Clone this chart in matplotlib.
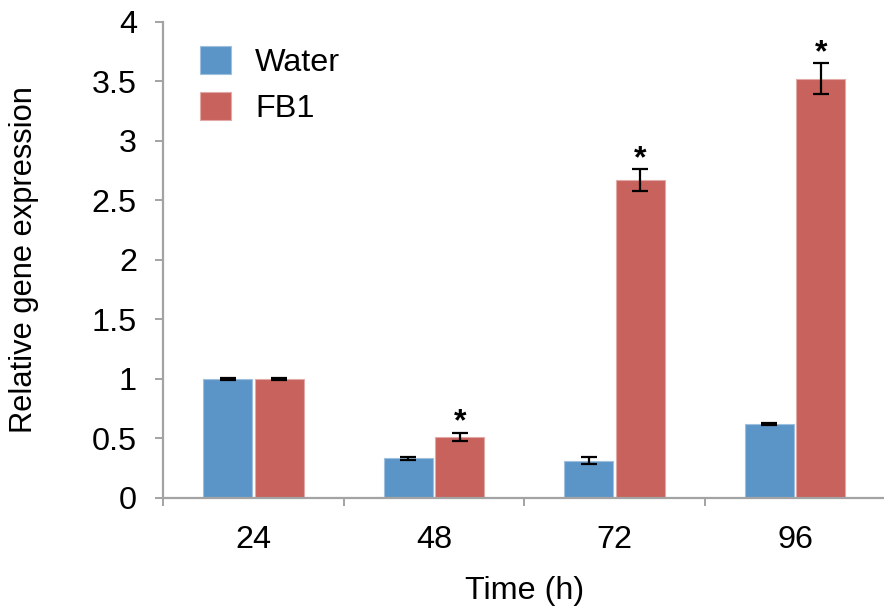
import matplotlib
matplotlib.use("Agg")
import matplotlib.pyplot as plt
import numpy as np

plt.rcParams['font.family'] = ['Liberation Sans', 'DejaVu Sans']

# Data
time_labels = ["24", "48", "72", "96"]
water = [1.0, 0.33, 0.31, 0.62]
water_err = [0.01, 0.01, 0.03, 0.01]
fb1 = [1.0, 0.51, 2.67, 3.52]
fb1_err = [0.01, 0.035, 0.09, 0.13]
fb1_signif = [False, True, True, True]

blue = "#5B95C7"
red = "#C8625D"
grey = "#A3A3A3"

W, H = 884, 608
fig = plt.figure(figsize=(W / 100, H / 100), dpi=100)
ax = fig.add_axes([163.3 / W, 110.3 / H, 722.0 / W, 476.0 / H])

x = np.arange(len(time_labels))
bw = 0.27
off = 0.143
err_kw = dict(ecolor="black", elinewidth=1.6, capsize=6, capthick=1.6)

ax.bar(x - off, water, bw, color=blue, edgecolor="#9EC0DE", linewidth=0.8,
       yerr=water_err, error_kw=err_kw, label="Water", zorder=2)
ax.bar(x + off, fb1, bw, color=red, edgecolor="#E3A9A6", linewidth=0.8,
       yerr=fb1_err, error_kw=err_kw, label="FB1", zorder=2)

# significance marks above the FB1 error bars
for xi, v, e, s in zip(x, fb1, fb1_err, fb1_signif):
    if s:
        ax.annotate("*", xy=(xi + off, v + e), xytext=(0, -3.5),
                    textcoords="offset points", ha="center", va="bottom",
                    fontsize=23, fontweight="bold")

ax.set_xlim(-0.5, 3.5)
ax.set_ylim(0, 4)
ax.set_yticks(np.arange(0, 4.01, 0.5))
ax.set_yticklabels(["0", "0.5", "1", "1.5", "2", "2.5", "3", "3.5", "4"])
ax.set_xticks(x)
ax.set_xticklabels(time_labels)
ax.set_xticks(np.arange(-0.5, 3.6, 1.0), minor=True)

for side in ("top", "right"):
    ax.spines[side].set_visible(False)
for side in ("left", "bottom"):
    ax.spines[side].set_color(grey)
    ax.spines[side].set_linewidth(1.6)

ax.tick_params(axis="y", direction="out", length=6, width=1.4, color=grey,
               labelsize=23.3, pad=13)
ax.tick_params(axis="x", which="major", length=0, labelsize=23.3, pad=20)
ax.tick_params(axis="x", which="minor", direction="out", length=6,
               width=1.4, color=grey)

ax.set_xlabel("Time (h)", fontsize=23.3, labelpad=15)
ax.set_ylabel("Relative gene expression", fontsize=22.2, labelpad=38)

leg = ax.legend(loc="upper left", bbox_to_anchor=(200 / W, 1 - 46 / H),
                bbox_transform=fig.transFigure, frameon=False, fontsize=23.3,
                handlelength=0.96, handleheight=0.96, handletextpad=0.75,
                labelspacing=0.42, borderpad=0, borderaxespad=0)

fig.savefig("out.png", dpi=100)
